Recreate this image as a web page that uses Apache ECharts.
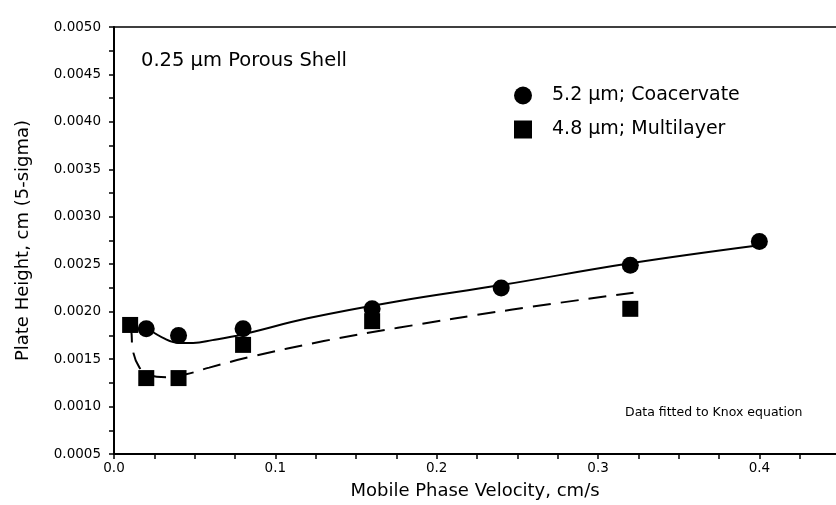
<!DOCTYPE html>
<html>
<head>
<meta charset="utf-8">
<script src="https://cdn.jsdelivr.net/npm/echarts@6/dist/echarts.min.js"></script>
<style>
  html, body { margin: 0; padding: 0; background: #fff; }
  #chart { width: 836px; height: 505px; }
</style>
</head>
<body>
<div id="chart"></div>
<script>
// measured points
var coacervateX = [0.02, 0.04, 0.08, 0.16, 0.24, 0.32, 0.40];
var coacervateY = [0.00182, 0.00175, 0.00182, 0.00203, 0.00225, 0.00249, 0.00274];
var multilayerX = [0.01, 0.02, 0.04, 0.08, 0.16, 0.32];
var multilayerY = [0.00186, 0.00130, 0.00130, 0.00165, 0.00190, 0.00203];

// Knox fit curves
var coacervateFitX = [0.02, 0.032, 0.0405, 0.049, 0.061, 0.0795, 0.12, 0.176, 0.24, 0.32, 0.40];
var coacervateFitY = [0.00183, 0.00171, 0.00167, 0.00167, 0.00170, 0.00176, 0.00193, 0.00211, 0.00228, 0.00251, 0.00270];
var multilayerFitX = [0.0095, 0.0107, 0.0117, 0.0158, 0.022, 0.0323, 0.0446, 0.059, 0.0837, 0.13, 0.176, 0.246, 0.322];
var multilayerFitY = [0.00186, 0.00180, 0.00159, 0.00141, 0.00133, 0.00131, 0.00134, 0.00141, 0.00152, 0.00169, 0.00183, 0.00202, 0.00220];

var xLabels = [0, 0.1, 0.2, 0.3, 0.4];
var yLabels = [0.0005, 0.0010, 0.0015, 0.0020, 0.0025, 0.0030, 0.0035, 0.0040, 0.0045, 0.0050];

function pairs(xs, ys) {
    return xs.map(function (x, i) { return [x, ys[i]]; });
}

var font = 'DejaVu Sans';
var chart = echarts.init(document.getElementById('chart'));
var option = {
    backgroundColor: '#fff',
    animation: false,
    grid: { left: 114, right: -4, top: 27, bottom: 48 },
    legend: {
        orient: 'vertical',
        left: 509,
        top: 81,
        itemWidth: 18,
        itemHeight: 18,
        itemGap: 15,
        data: ['5.2 μm; Coacervate', '4.8 μm; Multilayer'],
        textStyle: { fontFamily: font, fontSize: 19, color: '#000', padding: [0, 0, 0, 15], lineHeight: 18 }
    },
    xAxis: [{
        type: 'value',
        min: 0,
        max: 0.4475,
        interval: 0.025,
        name: 'Mobile Phase Velocity, cm/s',
        nameLocation: 'middle',
        nameGap: 28,
        nameTextStyle: { fontFamily: font, fontSize: 18, color: '#000' },
        axisLine: { lineStyle: { color: '#000', width: 2 } },
        axisTick: { length: 5, lineStyle: { color: '#000', width: 1.5 } },
        axisLabel: {
            fontFamily: font, fontSize: 13.5, color: '#000', margin: 7, showMaxLabel: false,
            formatter: function (v) {
                for (var i = 0; i < xLabels.length; i++) {
                    if (Math.abs(v - xLabels[i]) < 1e-6) return xLabels[i].toFixed(1);
                }
                return '';
            }
        },
        splitLine: { show: false }
    }, {
        // top frame line
        type: 'value',
        position: 'top',
        min: 0,
        max: 0.4475,
        axisLine: { show: true, lineStyle: { color: '#000', width: 1.5 } },
        axisTick: { show: false },
        axisLabel: { show: false },
        splitLine: { show: false }
    }],
    yAxis: {
        type: 'value',
        min: 0.0005,
        max: 0.005,
        interval: 0.00025,
        name: 'Plate Height, cm (5-sigma)',
        nameLocation: 'middle',
        nameGap: 82,
        nameTextStyle: { fontFamily: font, fontSize: 18, color: '#000' },
        axisLine: { lineStyle: { color: '#000', width: 2 } },
        axisTick: { length: 5, lineStyle: { color: '#000', width: 1.5 } },
        axisLabel: {
            fontFamily: font, fontSize: 13.5, color: '#000', margin: 13,
            formatter: function (v) {
                for (var i = 0; i < yLabels.length; i++) {
                    if (Math.abs(v - yLabels[i]) < 1e-8) return yLabels[i].toFixed(4);
                }
                return '';
            }
        },
        splitLine: { show: false }
    },
    graphic: [
        {
            type: 'text', left: 141, top: 51,
            style: { text: '0.25 µm Porous Shell', fontFamily: font, fontSize: 19.5, fill: '#000' }
        },
        {
            type: 'text', left: 625, top: 406,
            style: { text: 'Data fitted to Knox equation', fontFamily: font, fontSize: 12.5, fill: '#000' }
        }
    ],
    series: [
        {
            name: 'coacervate fit',
            type: 'line',
            data: pairs(coacervateFitX, coacervateFitY),
            smooth: 0.4,
            showSymbol: false,
            lineStyle: { color: '#000', width: 2 },
            z: 1
        },
        {
            name: 'multilayer fit',
            type: 'line',
            data: pairs(multilayerFitX, multilayerFitY),
            smooth: 0.4,
            showSymbol: false,
            lineStyle: { color: '#000', width: 2, type: [18, 10] },
            z: 1
        },
        {
            name: '5.2 μm; Coacervate',
            type: 'scatter',
            symbol: 'circle',
            symbolSize: 17,
            data: pairs(coacervateX, coacervateY),
            itemStyle: { color: '#000', opacity: 1 },
            z: 3
        },
        {
            name: '4.8 μm; Multilayer',
            type: 'scatter',
            symbol: 'rect',
            symbolSize: 16,
            data: pairs(multilayerX, multilayerY),
            itemStyle: { color: '#000', opacity: 1 },
            z: 3
        }
    ]
};
chart.setOption(option);
</script>
</body>
</html>
